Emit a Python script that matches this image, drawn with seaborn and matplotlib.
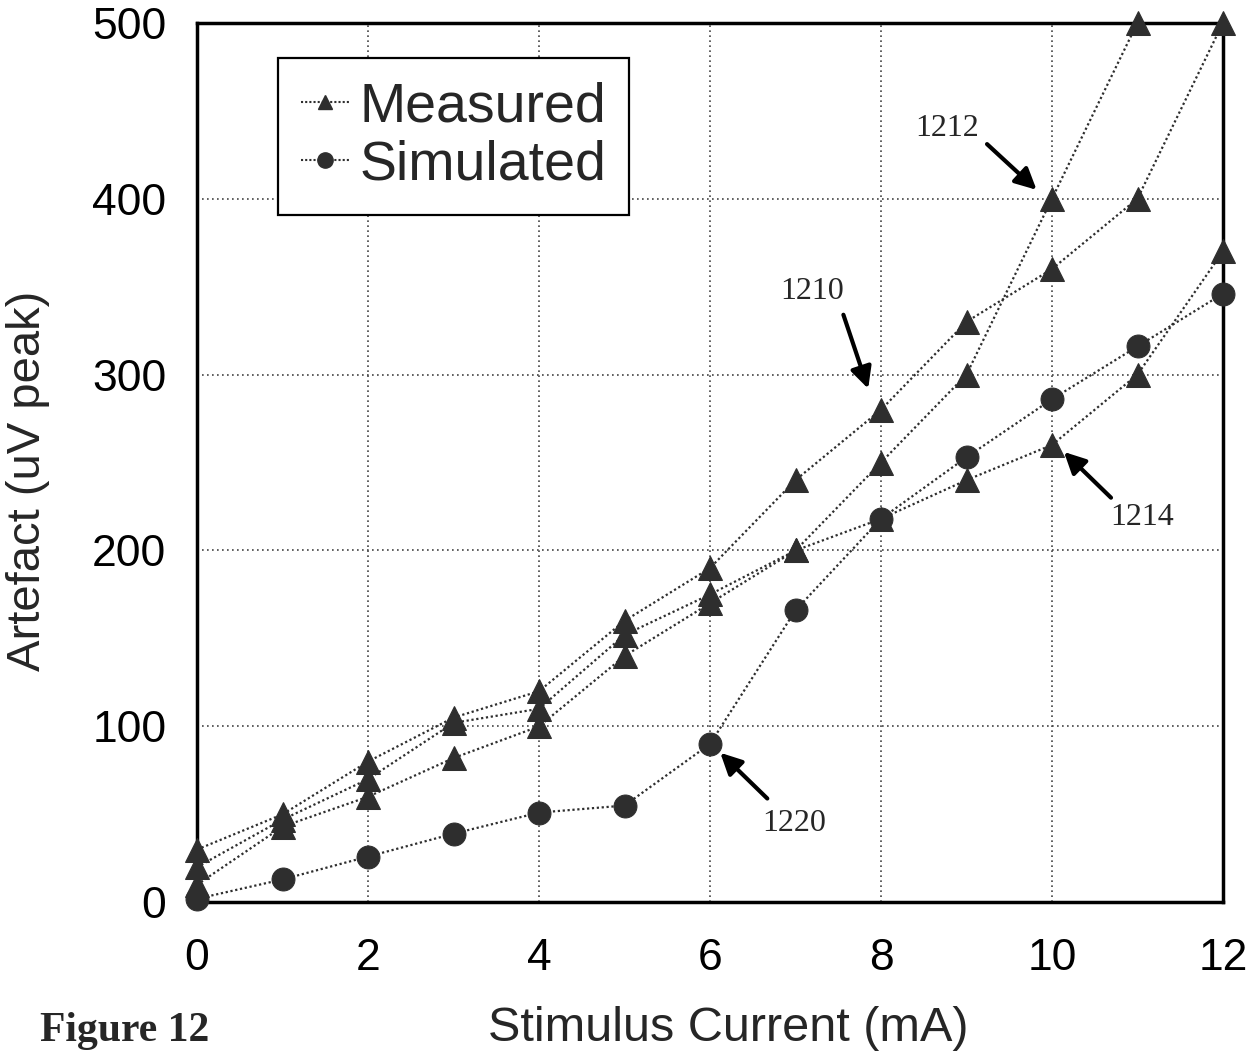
import numpy as np
import pandas as pd
import matplotlib
matplotlib.use("Agg")
import matplotlib.pyplot as plt
from matplotlib.lines import Line2D
from matplotlib.ticker import MultipleLocator
import seaborn as sns

# ---------------- data ----------------
current = [0, 1, 2, 3, 4, 5, 6, 7, 8, 9, 10, 11, 12]
measured_1210 = [30, 50, 80, 105, 120, 160, 190, 240, 280, 330, 360, 400, 500]
current_1212 = [0, 1, 2, 3, 4, 5, 6, 7, 8, 9, 10, 11]
measured_1212 = [20, 47, 70, 102, 110, 152, 175, 200, 250, 300, 400, 500]
measured_1214 = [10, 43, 60, 82, 100, 140, 170, 200, 218, 240, 260, 300, 370]
simulated_1220 = [2, 13, 26, 39, 51, 55, 90, 166, 218, 253, 286, 316, 346]

x_ticks = [0, 2, 4, 6, 8, 10, 12]
y_ticks = [0, 100, 200, 300, 400, 500]
legend_labels = ["Measured", "Simulated"]

# annotations: label, text position, arrow tail, arrow head (data coords)
ann_labels = ["1212", "1210", "1214", "1220"]
ann_text_xy = [(8.77, 440), (7.20, 347), (11.05, 219), (6.99, 45)]
ann_tail_xy = [(9.24, 431), (7.56, 334), (10.69, 230), (6.67, 59)]
ann_head_xy = [(9.82, 405), (7.85, 292), (10.14, 256), (6.12, 85)]

# ---------------- style ----------------
sns.set_style("white")
plt.rcParams["font.family"] = ["Liberation Sans", "DejaVu Sans"]

fig = plt.figure(figsize=(12.55, 10.52), dpi=100)
ax = fig.add_axes([0.157, 0.1423, 0.8175, 0.8361])

mark_color = "#2e2e2e"
line_kw = dict(color=mark_color, linestyle=(0, (1, 1.2)), linewidth=1.6,
               markersize=17, markeredgecolor=mark_color, clip_on=False,
               zorder=5)

frames = [
    pd.DataFrame({"x": current, "y": measured_1210}),
    pd.DataFrame({"x": current_1212, "y": measured_1212}),
    pd.DataFrame({"x": current, "y": measured_1214}),
]
for df in frames:
    sns.lineplot(data=df, x="x", y="y", marker="^", ax=ax, **line_kw)
sns.lineplot(data=pd.DataFrame({"x": current, "y": simulated_1220}),
             x="x", y="y", marker="o", ax=ax,
             **{**line_kw, "markersize": 16.5})

ax.set_xlim(0, 12)
ax.set_ylim(0, 500)
ax.set_xticks(x_ticks)
ax.set_yticks(y_ticks)
ax.set_xticklabels([str(v) for v in x_ticks])
ax.set_yticklabels([str(v) for v in y_ticks])
ax.xaxis.set_minor_locator(MultipleLocator(0.4))
ax.yaxis.set_minor_locator(MultipleLocator(20))
ax.tick_params(axis="both", which="both", direction="in", colors="black")
ax.tick_params(axis="both", which="major", length=0, labelsize=32)
ax.tick_params(axis="y", which="major", pad=22)
ax.tick_params(axis="x", which="major", pad=26)
ax.tick_params(axis="both", which="minor", length=8, width=1.3)
ax.tick_params(top=False, right=False, which="both")

ax.grid(True, which="major", color="#444444", linestyle=(0, (1, 2)),
        linewidth=1.2)
ax.set_axisbelow(True)
for s in ax.spines.values():
    s.set_visible(True)
    s.set_color("black")
    s.set_linewidth(2.5)

ax.set_xlabel("Stimulus Current (mA)", fontsize=35)
ax.set_ylabel("Artefact (uV peak)", fontsize=34)
ax.xaxis.set_label_coords(0.518, -0.118)
ax.yaxis.set_label_coords(-0.143, 0.479)

handles = [
    Line2D([], [], color=mark_color, linestyle=(0, (1, 1)), linewidth=1.5,
           marker="^", markersize=10),
    Line2D([], [], color=mark_color, linestyle=(0, (1, 1)), linewidth=1.5,
           marker="o", markersize=11),
]
leg = ax.legend(handles, legend_labels, loc="upper left",
                bbox_to_anchor=(0.079, 0.96), borderaxespad=0,
                fontsize=40, handlelength=0.86, handletextpad=0.18,
                labelspacing=0.12, borderpad=0.42, frameon=True,
                fancybox=False, framealpha=1)
leg.get_frame().set_edgecolor("black")
leg.get_frame().set_linewidth(1.6)
leg.set_zorder(10)

for lab, txy, tail, head in zip(ann_labels, ann_text_xy, ann_tail_xy, ann_head_xy):
    ax.text(txy[0], txy[1], lab, fontsize=23, ha="center", va="center",
            family=["Liberation Serif", "DejaVu Serif"], zorder=12)
    ax.annotate("", xy=head, xytext=tail,
                arrowprops=dict(arrowstyle="-|>", color="black", lw=3,
                                mutation_scale=32, shrinkA=0, shrinkB=0),
                zorder=12)

fig.text(40 / 1255, 2 / 1052, "Figure 12", fontsize=30,
         fontweight="bold", family=["Liberation Serif", "DejaVu Serif"],
         ha="left", va="bottom")

fig.savefig("out.png", dpi=100)
